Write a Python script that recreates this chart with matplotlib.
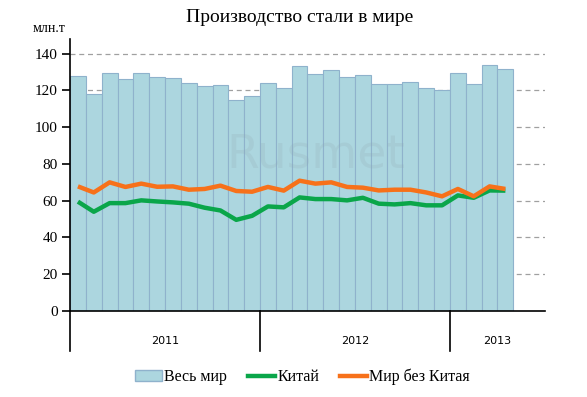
import matplotlib
matplotlib.use('Agg')
import matplotlib.pyplot as plt
from matplotlib.patches import Patch
from matplotlib.lines import Line2D

# monthly data, Jan 2011 - Apr 2013
world = [128, 118.2, 129.6, 126.4, 129.6, 127.5, 126.9, 124.2, 122.5, 123.1, 114.9, 117.1,
         124.2, 121.5, 133.5, 129.1, 131.3, 127.5, 128.5, 123.6, 123.6, 124.7, 121.5, 120.4,
         129.6, 123.6, 134, 131.8]
china = [59.5, 54, 58.7, 58.7, 60.2, 59.6, 59.1, 58.4, 56.2, 54.7, 49.6, 51.8,
         56.9, 56.4, 61.8, 60.9, 60.9, 60.2, 61.6, 58.4, 58, 58.7, 57.5, 57.5,
         62.9, 61.6, 65.6, 65.5]
no_china = [67.8, 64.5, 70, 67.5, 69.3, 67.6, 67.8, 66, 66.4, 68.2, 65.3, 64.9,
            67.5, 65.5, 70.9, 69.3, 70, 67.5, 67.1, 65.6, 66, 66, 64.5, 62.4,
            66.4, 62.4, 67.8, 66.4]
years = ['2011', '2012', '2013']
year_bounds = [-0.5, 11.5, 23.5, 29.5]

serif = ['Liberation Serif', 'DejaVu Serif']

fig = plt.figure(figsize=(5.87, 3.97), dpi=100)
ax = fig.add_axes([0.1193, 0.2166, 0.8091, 0.6852])

x = list(range(len(world)))
ax.bar(x, world, width=1.0, color='#acd6df', edgecolor='#8fb2cc', linewidth=0.8, zorder=2)
ax.plot(x, china, color='#0aa64a', lw=3.2, zorder=3, solid_capstyle='butt')
ax.plot(x, no_china, color='#f7711a', lw=3.2, zorder=3, solid_capstyle='butt')

ax.set_xlim(-0.5, 29.5)
ax.set_ylim(0, 148)
ax.set_yticks(range(0, 141, 20))
ax.set_xticks([])
for yv in range(20, 141, 20):
    ax.axhline(yv, color='#a0a0a0', lw=0.9, ls=(0, (4, 3)), zorder=1)

for s in ['top', 'right', 'bottom']:
    ax.spines[s].set_visible(False)
ax.spines['left'].set_linewidth(1.2)
ax.axhline(0, color='black', lw=1.2, zorder=4, clip_on=False)
ax.tick_params(axis='y', length=6, width=1.2, labelsize=11, pad=3)
for lab in ax.get_yticklabels():
    lab.set_fontfamily(serif)

# year separators below the axis
for b in year_bounds[:-1]:
    ax.plot([b, b], [0, -21.5], color='black', lw=1.2, clip_on=False)
for i, yr in enumerate(years):
    ax.text((year_bounds[i] + year_bounds[i + 1]) / 2, -16.5, yr, ha='center', va='center',
            fontsize=8, family='DejaVu Sans')

ax.text(-0.8, 150, 'млн.т', ha='right', va='bottom', fontsize=10, family=serif)
fig.text(0.51, 0.955, 'Производство стали в мире', ha='center', va='center',
         fontsize=14, family=serif)

# faint watermark
ax.text(15, 85, 'Rusmet', ha='center', va='center', fontsize=34, color='#90a8b0',
        alpha=0.2, zorder=2.5, family='DejaVu Sans')

handles = [Patch(facecolor='#acd6df', edgecolor='#8fb2cc'),
           Line2D([], [], color='#0aa64a', lw=3.2),
           Line2D([], [], color='#f7711a', lw=3.2)]
fig.legend(handles, ['Весь мир', 'Китай', 'Мир без Китая'], loc='center',
           bbox_to_anchor=(0.515, 0.05), ncol=3, frameon=False, handlelength=1.7,
           handletextpad=0.15, columnspacing=1.3, prop={'family': serif, 'size': 11.5})

fig.savefig('out.png', dpi=100)
